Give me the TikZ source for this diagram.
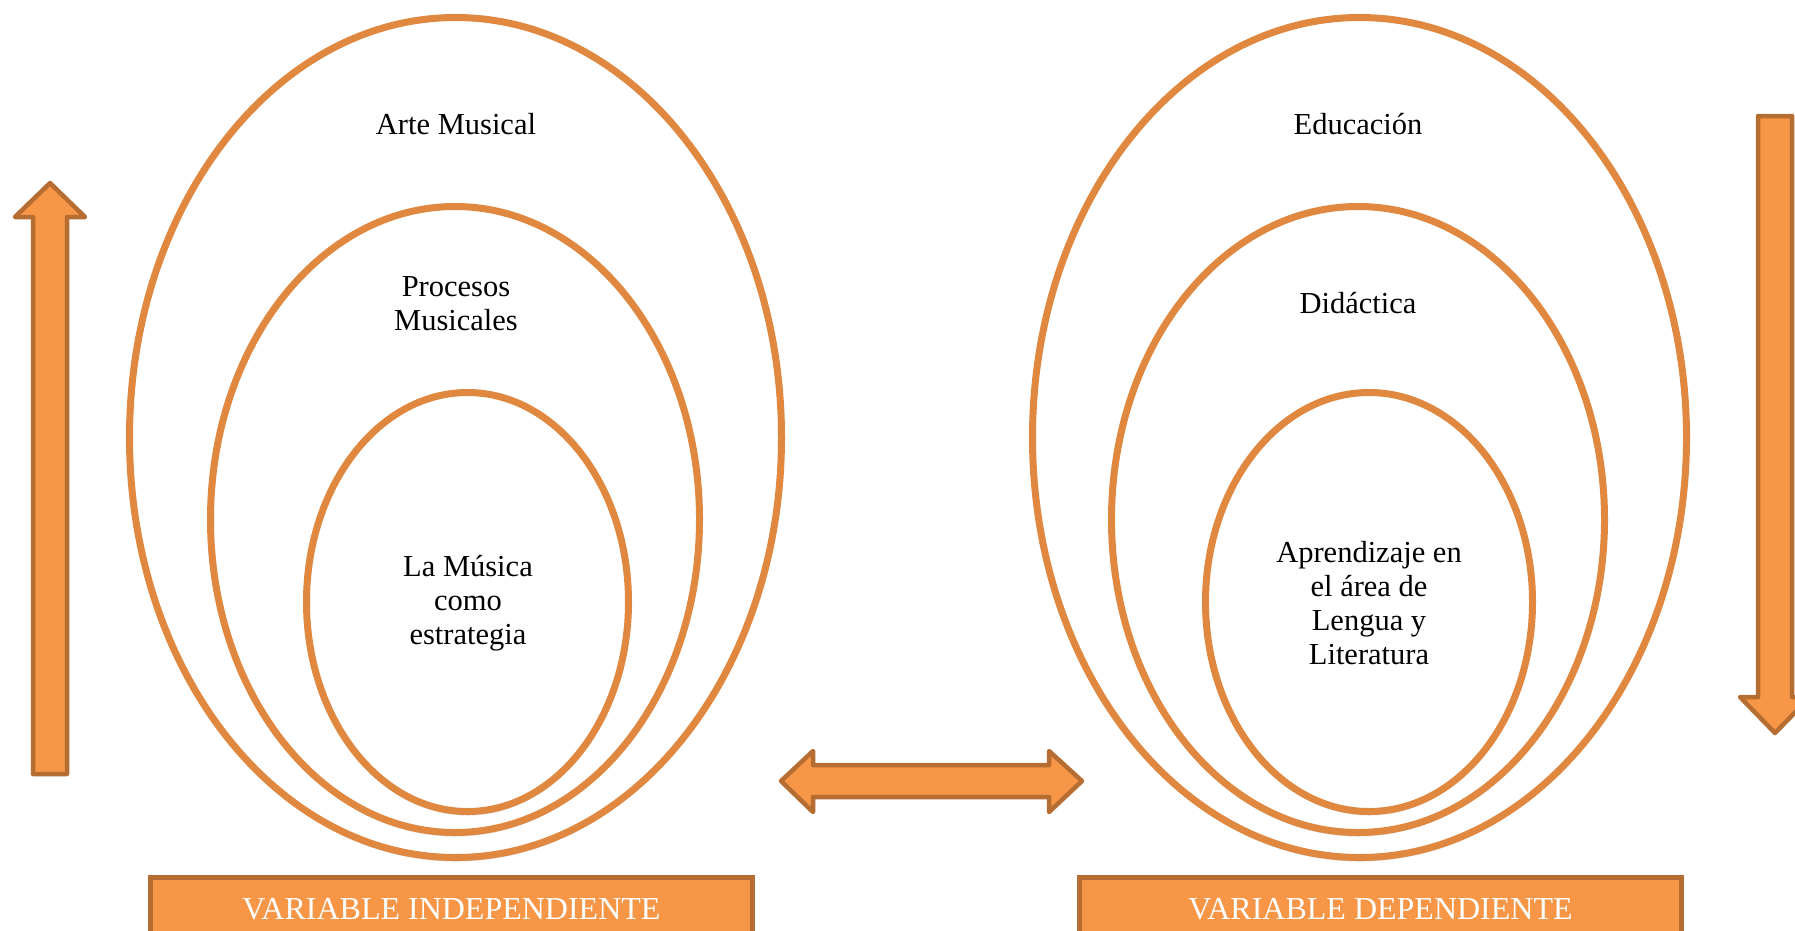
\documentclass[tikz,border=0pt]{standalone}
\usepackage{fontspec}
\setmainfont{Liberation Serif}
\usetikzlibrary{shapes.geometric,shadows}
\definecolor{ringc}{HTML}{E0883F}
\definecolor{arrfill}{HTML}{F79646}
\definecolor{arrline}{HTML}{B66D32}
\tikzset{
  ring/.style={ellipse, draw=ringc, line width=7pt, fill=white, inner sep=0pt, outer sep=0pt,
     drop shadow={shadow xshift=0pt, shadow yshift=-4pt, opacity=0.25, fill=gray}},
  lbl/.style={align=center, font=\fontsize{30.5}{34}\selectfont, inner sep=0pt},
  bigarrow/.style={fill=arrfill, draw=arrline, line width=4.5pt, line join=round},
  varbox/.style={fill=arrfill, draw=arrline, line width=4.5pt, inner sep=0pt, outer sep=0pt,
     minimum height=90pt},
  vartext/.style={text=white, font=\fontsize{32}{34}\selectfont, inner sep=0pt, anchor=base}
}
\begin{document}
\begin{tikzpicture}[x=1pt,y=-1pt]
\useasboundingbox (0,0) rectangle (1795,930);
% left ellipses
\node[ring, minimum width=652pt, minimum height=840pt] (L1) at (455.5,437.5) {};
\node[ring, minimum width=489pt, minimum height=626pt] (L2) at (455,519.5) {};
\node[ring, minimum width=322pt, minimum height=419pt] (L3) at (467.5,602) {};
% right ellipses
\node[ring, minimum width=654pt, minimum height=840pt] (R1) at (1359.5,437.5) {};
\node[ring, minimum width=493pt, minimum height=626pt] (R2) at (1358,519.5) {};
\node[ring, minimum width=327pt, minimum height=419pt] (R3) at (1369,602) {};
% labels
\node[lbl] (t1) at (456,124) {Arte Musical};
\node[lbl] (t2) at (456,304) {Procesos\\Musicales};
\node[lbl] (t3) at (468,603) {La Música\\como\\estrategia};
\node[lbl] (t4) at (1358,124) {Educación};
\node[lbl] (t5) at (1358,303) {Didáctica};
\node[lbl] (t6) at (1369,603) {Aprendizaje en\\el área de\\Lengua y\\Literatura};
% up arrow (left)
\draw[bigarrow] (33,774) -- (33,217) -- (15,217) -- (50,183) -- (85,217) -- (67,217) -- (67,774) -- cycle;
% down arrow (right)
\draw[bigarrow] (1758,116) -- (1758,697) -- (1740,697) -- (1775,733) -- (1810,697) -- (1792,697) -- (1792,116) -- cycle;
% double arrow
\draw[bigarrow] (781,781) -- (813,751) -- (813,765) -- (1049,765) -- (1049,751) -- (1082,781)
  -- (1049,812) -- (1049,797) -- (813,797) -- (813,812) -- cycle;
% variable boxes
\node[varbox, minimum width=602pt] (VI) at (451.5,922.5) {};
\node[varbox, minimum width=602pt] (VD) at (1380.5,922.5) {};
\node[vartext] (VIt) at (451.5,919) {VARIABLE INDEPENDIENTE};
\node[vartext] (VDt) at (1380.5,919) {VARIABLE DEPENDIENTE};
\end{tikzpicture}
\end{document}
